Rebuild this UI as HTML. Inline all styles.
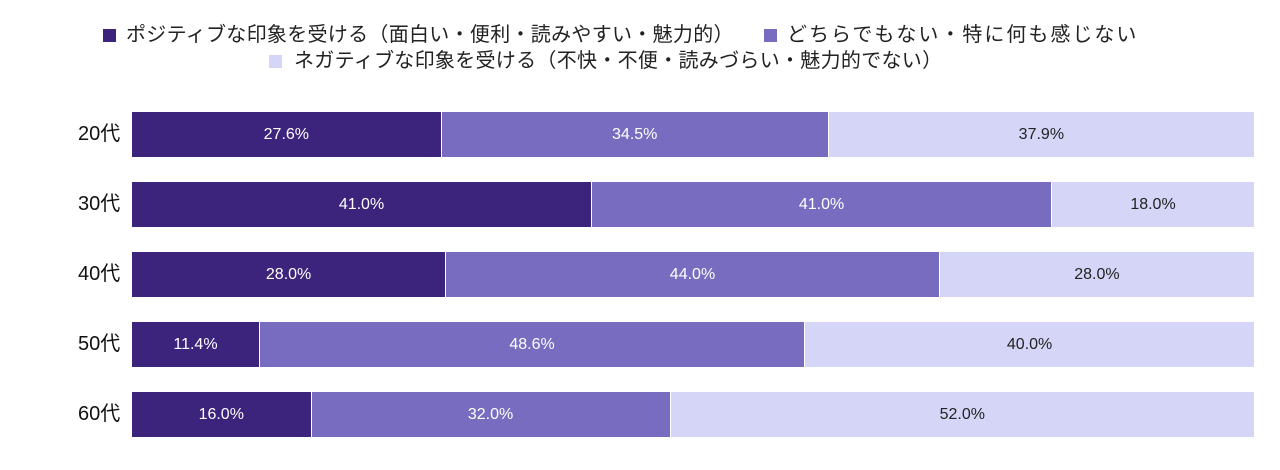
<!DOCTYPE html>
<html><head><meta charset="utf-8"><style>
body{margin:0;width:1280px;height:470px;background:#fff;position:relative;overflow:hidden;font-family:"Liberation Sans","Noto Sans CJK JP",sans-serif;}
.sq{position:absolute;width:13px;height:13px;}
.lg{position:absolute;font-size:20px;color:#222;white-space:nowrap;line-height:20px;}
.lab{position:absolute;left:78px;font-size:20px;color:#111;width:50px;line-height:45px;}
.bar{position:absolute;left:132px;width:1122px;height:45px;display:flex;}
.bar div{height:45px;line-height:45px;text-align:center;font-size:16px;box-sizing:border-box;}
.d{background:#3c237b;color:#fff;border-right:1px solid #fff;}
.m{background:#786cc0;color:#fff;border-right:1px solid #fff;}
.l{background:#d5d5f7;color:#222;}
</style></head><body>
<div class="sq" style="left:103px;top:29px;background:#3c237b"></div>
<div class="lg" style="left:126px;top:25px;letter-spacing:0.3px">ポジティブな印象を受ける（面白い・便利・読みやすい・魅力的）</div>
<div class="sq" style="left:764px;top:29px;background:#786cc0"></div>
<div class="lg" style="left:787px;top:25px;letter-spacing:2px">どちらでもない・特に何も感じない</div>
<div class="sq" style="left:269px;top:55px;background:#d5d5f7"></div>
<div class="lg" style="left:294px;top:51px;letter-spacing:0.3px">ネガティブな印象を受ける（不快・不便・読みづらい・魅力的でない）</div>

<div class="lab" style="top:112px">20代</div>
<div class="bar" style="top:112px"><div class="d" style="width:27.6%">27.6%</div><div class="m" style="width:34.5%">34.5%</div><div class="l" style="width:37.9%">37.9%</div></div>
<div class="lab" style="top:182px">30代</div>
<div class="bar" style="top:182px"><div class="d" style="width:41%">41.0%</div><div class="m" style="width:41%">41.0%</div><div class="l" style="width:18%">18.0%</div></div>
<div class="lab" style="top:252px">40代</div>
<div class="bar" style="top:252px"><div class="d" style="width:28%">28.0%</div><div class="m" style="width:44%">44.0%</div><div class="l" style="width:28%">28.0%</div></div>
<div class="lab" style="top:322px">50代</div>
<div class="bar" style="top:322px"><div class="d" style="width:11.4%">11.4%</div><div class="m" style="width:48.6%">48.6%</div><div class="l" style="width:40%">40.0%</div></div>
<div class="lab" style="top:392px">60代</div>
<div class="bar" style="top:392px"><div class="d" style="width:16%">16.0%</div><div class="m" style="width:32%">32.0%</div><div class="l" style="width:52%">52.0%</div></div>
</body></html>
